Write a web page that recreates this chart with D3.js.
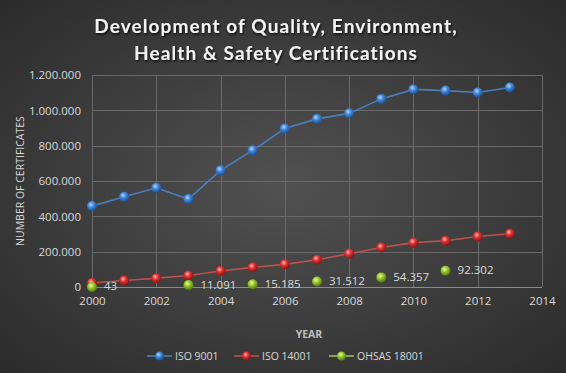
<!DOCTYPE html>
<html>
<head>
<meta charset="utf-8">
<script src="https://cdn.jsdelivr.net/npm/d3@7"></script>
<style>
  body { margin: 0; background: #333; }
  svg { display: block; font-family: "Open Sans", "Liberation Sans", sans-serif; }
</style>
</head>
<body>
<svg id="chart"></svg>
<script>
// data
var years = [2000, 2001, 2002, 2003, 2004, 2005, 2006, 2007, 2008, 2009, 2010, 2011, 2012, 2013];
var iso9001 = [457834, 510616, 561747, 497919, 660132, 773867, 896929, 951486, 982832, 1064785, 1118510, 1111698, 1101272, 1129446];
var iso14001 = [22897, 36464, 49440, 64996, 90554, 111162, 128211, 154572, 188574, 223149, 250972, 261957, 285844, 301647];
var ohsasYears = [2000, 2003, 2005, 2007, 2009, 2011];
var ohsas = [43, 11091, 15185, 31512, 54357, 92302];
var yTicks = [0, 200000, 400000, 600000, 800000, 1000000, 1200000];
var xTicks = [2000, 2002, 2004, 2006, 2008, 2010, 2012, 2014];
var seriesNames = ["ISO 9001", "ISO 14001", "OHSAS 18001"];

var screen = { width: 566, height: 373 };
var margins = { top: 75, bottom: 86, left: 92, right: 24 };
var width = screen.width - margins.left - margins.right;
var height = screen.height - margins.top - margins.bottom;

var svg = d3.select('#chart')
  .attr('width', screen.width)
  .attr('height', screen.height);

var defs = svg.append('defs');
var bg = defs.append('radialGradient').attr('id', 'bg')
  .attr('cx', '50%').attr('cy', '50%').attr('r', '70%');
bg.append('stop').attr('offset', '0%').attr('stop-color', '#515151');
bg.append('stop').attr('offset', '100%').attr('stop-color', '#2b2b2b');

// sphere look for markers
var ball = function(id, light, mid, dark)
{
  var g = defs.append('radialGradient').attr('id', id)
    .attr('cx', '40%').attr('cy', '35%').attr('r', '65%');
  g.append('stop').attr('offset', '0%').attr('stop-color', light);
  g.append('stop').attr('offset', '45%').attr('stop-color', mid);
  g.append('stop').attr('offset', '100%').attr('stop-color', dark);
};
ball('ballBlue', '#b5d4ff', '#3f86d9', '#1d4f8f');
ball('ballRed', '#ffb0b0', '#dd3030', '#861414');
ball('ballGreen', '#e4ff9c', '#97c72c', '#557a10');

var shadow = defs.append('filter').attr('id', 'tshadow');
shadow.append('feDropShadow').attr('dx', 1).attr('dy', 1.5)
  .attr('stdDeviation', 1.2).attr('flood-color', '#000').attr('flood-opacity', 0.8);

svg.append('rect').attr('width', screen.width).attr('height', screen.height)
  .attr('fill', 'url(#bg)');

// title
var title = svg.append('text')
  .attr('text-anchor', 'middle')
  .attr('fill', '#f2f2f2')
  .attr('font-family', 'Lato, "Open Sans", sans-serif')
  .attr('font-size', 19)
  .attr('font-weight', 'bold')
  .attr('letter-spacing', 1.1)
  .attr('filter', 'url(#tshadow)');
title.append('tspan').attr('x', 276).attr('y', 33).text('Development of Quality, Environment,');
title.append('tspan').attr('x', 276).attr('y', 60).text('Health & Safety Certifications');

var xScale = d3.scaleLinear().domain([2000, 2014]).range([0, width]);
var yScale = d3.scaleLinear().domain([0, 1200000]).range([height, 0]);

var plot = svg.append('g')
  .attr('transform', 'translate(' + margins.left + ',' + margins.top + ')');

// gridlines
plot.append('g').selectAll('line').data(yTicks).enter().append('line')
  .attr('x1', 0).attr('x2', width)
  .attr('y1', function(d) { return Math.round(yScale(d)) + 0.5; })
  .attr('y2', function(d) { return Math.round(yScale(d)) + 0.5; })
  .attr('stroke', function(d) { return d == 0 ? '#8a8a8a' : '#6a6a6a'; })
  .attr('stroke-width', 1);
plot.append('g').selectAll('line').data(xTicks).enter().append('line')
  .attr('y1', 0).attr('y2', height)
  .attr('x1', function(d) { return Math.round(xScale(d)) + 0.5; })
  .attr('x2', function(d) { return Math.round(xScale(d)) + 0.5; })
  .attr('stroke', '#6a6a6a');

// axes (labels only)
var fmt = function(d) { return d3.format(',')(d).replace(/,/g, '.'); };
var yAxis = d3.axisLeft(yScale).tickValues(yTicks).tickFormat(fmt).tickSize(0).tickPadding(11);
var yG = plot.append('g').call(yAxis);
var xAxis = d3.axisBottom(xScale).tickValues(xTicks).tickFormat(d3.format('d')).tickSize(0).tickPadding(10);
var xG = plot.append('g').attr('transform', 'translate(0,' + height + ')').call(xAxis);
[yG, xG].forEach(function(g)
{
  g.select('.domain').remove();
  g.selectAll('text').attr('fill', '#d9d9d9').attr('font-size', 11.5)
    .attr('font-family', '"Open Sans", sans-serif');
});

// axis titles
svg.append('text')
  .attr('transform', 'translate(24,' + (margins.top + height / 2) + ') rotate(-90)')
  .attr('text-anchor', 'middle').attr('fill', '#d9d9d9').attr('font-size', 10.5)
  .text('NUMBER OF CERTIFICATES');
svg.append('text')
  .attr('x', 309).attr('y', 338).attr('text-anchor', 'middle')
  .attr('fill', '#bfbfbf').attr('font-size', 10.5).attr('font-weight', 'bold')
  .text('YEAR');

// series
var drawSeries = function(xs, vals, lineColor, ballId, withLine)
{
  var pts = xs.map(function(x, i) { return { x: x, v: vals[i] }; });
  if (withLine)
  {
    var line = d3.line()
      .x(function(d) { return xScale(d.x); })
      .y(function(d) { return yScale(d.v); });
    plot.append('path').datum(pts)
      .attr('d', line).attr('fill', 'none')
      .attr('stroke', lineColor).attr('stroke-width', 1.6);
  }
  plot.append('g').selectAll('circle').data(pts).enter().append('circle')
    .attr('cx', function(d) { return xScale(d.x); })
    .attr('cy', function(d) { return yScale(d.v); })
    .attr('r', 5)
    .attr('fill', 'url(#' + ballId + ')');
  return pts;
};

drawSeries(years, iso14001, '#c0504d', 'ballRed', true);
drawSeries(years, iso9001, '#4a7ebb', 'ballBlue', true);
var ohsasPts = drawSeries(ohsasYears, ohsas, '#9bbb59', 'ballGreen', false);

plot.append('g').selectAll('text').data(ohsasPts).enter().append('text')
  .attr('x', function(d) { return xScale(d.x) + 12; })
  .attr('y', function(d) { return yScale(d.v) + 3.5; })
  .attr('fill', '#d9d9d9').attr('font-size', 11.5)
  .text(function(d) { return fmt(d.v); });

// legend
var legend = [
  { name: seriesNames[0], color: '#4a7ebb', ball: 'ballBlue', x: 147 },
  { name: seriesNames[1], color: '#c0504d', ball: 'ballRed', x: 234 },
  { name: seriesNames[2], color: '#9bbb59', ball: 'ballGreen', x: 329 }
];
var lg = svg.append('g').selectAll('g').data(legend).enter().append('g')
  .attr('transform', function(d) { return 'translate(' + d.x + ',356)'; });
lg.append('line').attr('x1', 0).attr('x2', 25).attr('y1', 0).attr('y2', 0)
  .attr('stroke', function(d) { return d.color; }).attr('stroke-width', 1.6);
lg.append('circle').attr('cx', 12.5).attr('cy', 0).attr('r', 4.5)
  .attr('fill', function(d) { return 'url(#' + d.ball + ')'; });
lg.append('text').attr('x', 28).attr('y', 4).attr('fill', '#d9d9d9')
  .attr('font-size', 10.5).text(function(d) { return d.name; });
</script>
</body>
</html>
